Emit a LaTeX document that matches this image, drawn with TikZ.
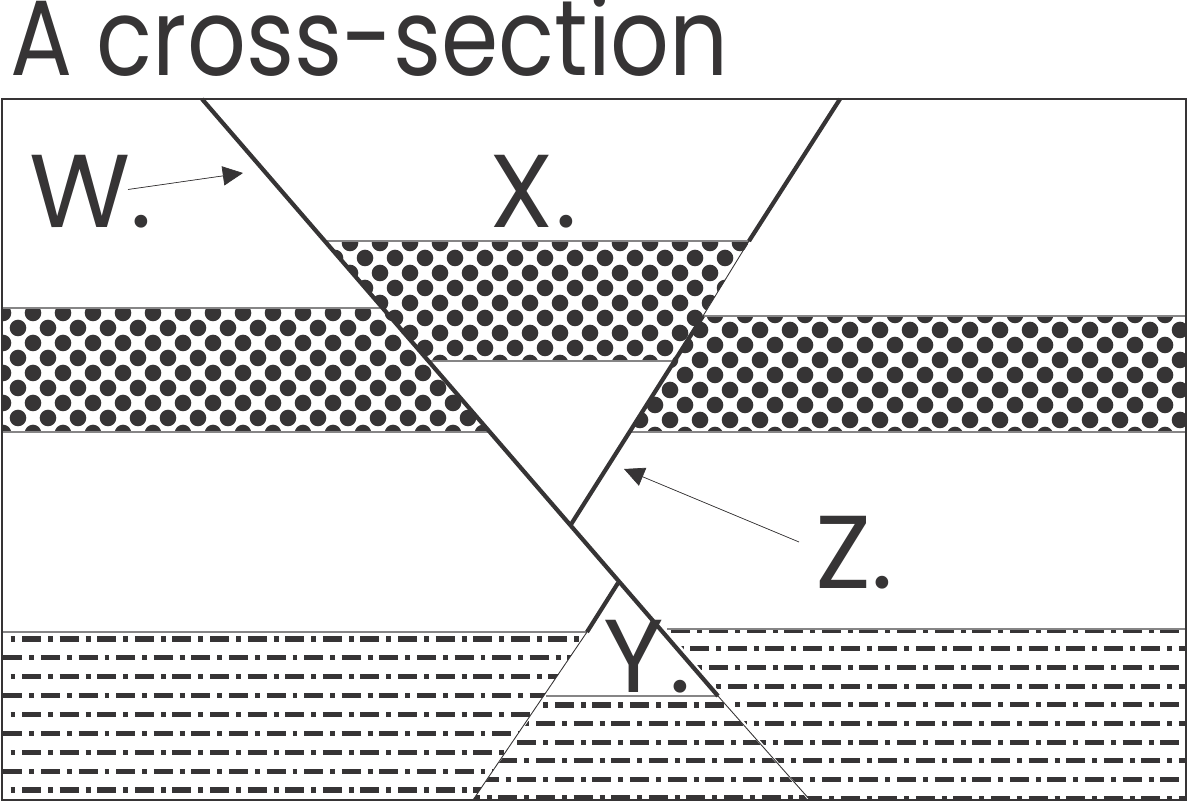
\documentclass[tikz,border=0pt]{standalone}
\usepackage{fontspec}
\setmainfont{Poppins}
\newfontfamily\headfont[FakeStretch=0.86]{Poppins}
\usetikzlibrary{arrows.meta}

\definecolor{ink}{RGB}{54,52,53}

\begin{document}
\begin{tikzpicture}[x=0.02cm,y=-0.02cm,>={Stealth[length=11.5pt,width=11pt,inset=0pt]}]
      \tikzstyle{fault}=[draw=ink,line width=2.4pt]
      \tikzstyle{thin fault}=[draw=ink,line width=0.5pt]
      \tikzstyle{bed edge}=[draw=ink!60,line width=0.6pt]
      \tikzstyle{pointer}=[->,draw=ink,fill=ink,line width=0.4pt]
      \tikzstyle{letter}=[text=ink,font=\fontsize{59}{59}\selectfont,inner sep=0pt,anchor=base west]
      \tikzstyle{title}=[letter,font=\headfont\fontsize{61}{61}\selectfont]

      \useasboundingbox (0,0) rectangle (1188,803);

      % Draw the dotted beds
      \begin{scope}
          \clip (2,308) -- (382,308) -- (490,432) -- (2,432) -- cycle;
          \foreach \row in {0,...,8}
              \foreach \col in {0,...,20}
                  \fill[ink] ({3+30*\col+15*mod(\row,2)},{313+15*\row}) circle (8.3);
      \end{scope}
      \begin{scope}
          \clip (325,241) -- (750,241) -- (674,361) -- (428,361) -- cycle;
          \foreach \row in {0,...,8}
              \foreach \col in {0,...,16}
                  \fill[ink] ({290+30*\col+15*mod(\row+1,2)-15},{243+15*\row}) circle (8.3);
      \end{scope}
      \begin{scope}
          \clip (703,316) -- (1186,316) -- (1186,432) -- (630,432) -- cycle;
          \foreach \row in {0,...,8}
              \foreach \col in {0,...,20}
                  \fill[ink] ({625+30*\col+15*mod(\row,2)},{315+15*\row}) circle (8.3);
      \end{scope}

      % Draw the dash-dot beds
      \tikzstyle{dash bed}=[draw=ink,line width=2.9pt,dash pattern=on 10.8pt off 4pt on 2.8pt off 3.8pt]
      \begin{scope}
          \clip (2,632) -- (587,632) -- (473,800) -- (2,800) -- cycle;
          \foreach \row in {0,...,8}
              \draw[dash bed] ({-15.5-18.75*mod(\row,2)},{639+18.87*\row}) -- (700,{639+18.87*\row});
      \end{scope}
      \begin{scope}
          \clip (667,629) -- (1186,629) -- (1186,800) -- (810,800) -- cycle;
          \foreach \row in {0,...,9}
              \draw[dash bed] ({596.25+18.75*mod(\row,2)},{630+18.7*\row}) -- (1300,{630+18.7*\row});
      \end{scope}
      \begin{scope}
          \clip (546,696) -- (718,696) -- (808,800) -- (473,800) -- cycle;
          \foreach \row in {0,...,5}
              \draw[dash bed] ({442-18.75*mod(\row,2)},{705+18.6*\row}) -- (900,{705+18.6*\row});
      \end{scope}

      % Draw the bed edges
      \draw[bed edge] (2,308) -- (382,308);
      \draw[bed edge] (2,432) -- (490,432);
      \draw[bed edge] (325,241) -- (750,241);
      \draw[bed edge] (428,361) -- (674,361);
      \draw[bed edge] (703,316) -- (1186,316);
      \draw[bed edge] (630,432) -- (1186,432);
      \draw[bed edge] (2,632) -- (587,632);
      \draw[bed edge] (667,629) -- (1186,629);
      \draw[bed edge] (546,696) -- (718,696);

      % Draw the faults
      \draw[fault] (202,99) -- (718,696);
      \draw[thin fault] (718,696) -- (810,800);
      \draw[fault] (840,99) -- (749,241);
      \draw[thin fault] (749,241) -- (703,316);
      \draw[fault] (703,316) -- (570,526);
      \draw[fault] (618,583) -- (587,632);
      \draw[thin fault] (587,632) -- (473,800);

      % Draw the frame
      \draw[ink,line width=1.2pt] (2,99) rectangle (1186,800);

      % Annotate the picture
      \node[title] (head) at (10,76) {A cross-section};
      \node[letter] (W) at (29,228) {W\kern0pt.};
      \node[letter] (X) at (489,228) {X\kern1pt.};
      \node[letter] (Y) at (603,693) {Y\kern3pt.};
      \node[letter] (Z) at (815,589) {Z\kern0pt.};

      \coordinate (W-tail) at (128,189.5);
      \coordinate (W-tip) at (243,173);
      \coordinate (Z-tail) at (799,542);
      \coordinate (Z-tip) at (624,469);
      \draw[pointer] (W-tail) -- (W-tip);
      \draw[pointer] (Z-tail) -- (Z-tip);
  \end{tikzpicture}
\end{document}
